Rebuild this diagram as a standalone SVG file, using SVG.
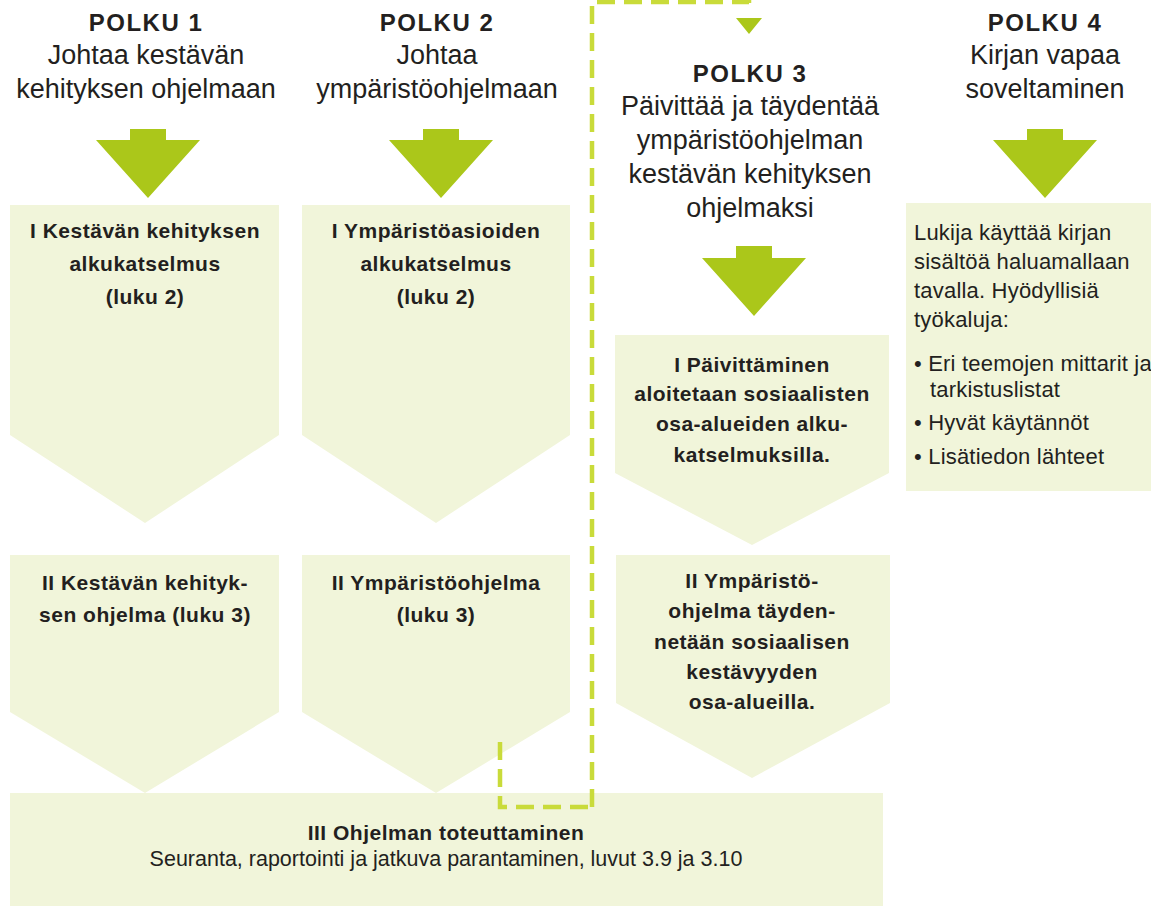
<svg xmlns="http://www.w3.org/2000/svg" width="1151" height="906" viewBox="0 0 1151 906">
<style>
.bg{fill:#ffffff}
.box{fill:#f1f5da}
.arrow{fill:#abc71a}
.dash{fill:none;stroke:#c9db3a;stroke-width:4.5;stroke-dasharray:18 9}
.t{font-family:"Liberation Sans",Arial,sans-serif;fill:#231f20}
.title{font-size:24px;font-weight:bold;letter-spacing:1.5px;text-anchor:middle}
.sub{font-size:27px;text-anchor:middle}
.bt{font-size:21px;font-weight:bold;letter-spacing:0.5px;text-anchor:middle}
.rt{font-size:22px;letter-spacing:0.2px}
.ft{font-size:21.5px;text-anchor:middle}
</style>
<rect class="bg" x="0" y="0" width="1151" height="906"/>

<g id="polku1">
  <text class="t title" x="146" y="31">POLKU 1</text>
  <text class="t sub" x="146" y="64">Johtaa kestävän</text>
  <text class="t sub" x="146" y="98">kehityksen ohjelmaan</text>
  <polygon class="arrow" points="130,129 166,129 166,140 200,140 148,198 96,140 130,140"/>
</g>

<g id="polku2">
  <text class="t title" x="437" y="31">POLKU 2</text>
  <text class="t sub" x="437" y="64">Johtaa</text>
  <text class="t sub" x="437" y="98">ympäristöohjelmaan</text>
  <polygon class="arrow" points="423,129 459,129 459,140 493,140 441,198 389,140 423,140"/>
</g>

<g id="polku3">
  <text class="t title" x="750" y="82">POLKU 3</text>
  <text class="t sub" x="750" y="115">Päivittää ja täydentää</text>
  <text class="t sub" x="750" y="149">ympäristöohjelman</text>
  <text class="t sub" x="750" y="183">kestävän kehityksen</text>
  <text class="t sub" x="750" y="217">ohjelmaksi</text>
  <polygon class="arrow" points="736,246 772,246 772,258 806,258 754,316 702,258 736,258"/>
</g>

<g id="polku4">
  <text class="t title" x="1045" y="31">POLKU 4</text>
  <text class="t sub" x="1045" y="64">Kirjan vapaa</text>
  <text class="t sub" x="1045" y="98">soveltaminen</text>
  <polygon class="arrow" points="1027,129 1063,129 1063,140 1097,140 1045,198 993,140 1027,140"/>
</g>

<g id="box1a">
  <polygon class="box" points="10,205 279,205 279,435 145,523 10,435"/>
  <text class="t bt" x="145" y="238">I Kestävän kehityksen</text>
  <text class="t bt" x="145" y="271">alkukatselmus</text>
  <text class="t bt" x="145" y="304">(luku 2)</text>
</g>

<g id="box2a">
  <polygon class="box" points="302,205 570,205 570,435 436,523 302,435"/>
  <text class="t bt" x="436" y="238">I Ympäristöasioiden</text>
  <text class="t bt" x="436" y="271">alkukatselmus</text>
  <text class="t bt" x="436" y="304">(luku 2)</text>
</g>

<g id="box3a">
  <polygon class="box" points="615,335 889,335 889,473 752,545 615,473"/>
  <text class="t bt" x="752" y="372">I Päivittäminen</text>
  <text class="t bt" x="752" y="401">aloitetaan sosiaalisten</text>
  <text class="t bt" x="752" y="431">osa-alueiden alku-</text>
  <text class="t bt" x="752" y="462">katselmuksilla.</text>
</g>

<g id="box4">
  <rect class="box" x="906" y="203" width="250" height="288"/>
  <text class="t rt" x="914" y="240">Lukija käyttää kirjan</text>
  <text class="t rt" x="914" y="269">sisältöä haluamallaan</text>
  <text class="t rt" x="914" y="298">tavalla. Hyödyllisiä</text>
  <text class="t rt" x="914" y="327">työkaluja:</text>
  <text class="t rt" x="914" y="371">• Eri teemojen mittarit ja</text>
  <text class="t rt" x="930" y="397">tarkistuslistat</text>
  <text class="t rt" x="914" y="430">• Hyvät käytännöt</text>
  <text class="t rt" x="914" y="464">• Lisätiedon lähteet</text>
</g>

<g id="box1b">
  <polygon class="box" points="10,555 279,555 279,712 145,793 10,712"/>
  <text class="t bt" x="145" y="590">II Kestävän kehityk-</text>
  <text class="t bt" x="145" y="622">sen ohjelma (luku 3)</text>
</g>

<g id="box2b">
  <polygon class="box" points="302,555 570,555 570,712 436,793 302,712"/>
  <text class="t bt" x="436" y="590">II Ympäristöohjelma</text>
  <text class="t bt" x="436" y="622">(luku 3)</text>
</g>

<g id="box3b">
  <polygon class="box" points="616,555 890,555 890,703 752,778 616,703"/>
  <text class="t bt" x="752" y="588">II Ympäristö-</text>
  <text class="t bt" x="752" y="618">ohjelma täyden-</text>
  <text class="t bt" x="752" y="649">netään sosiaalisen</text>
  <text class="t bt" x="752" y="679">kestävyyden</text>
  <text class="t bt" x="752" y="709">osa-alueilla.</text>
</g>

<g id="box5">
  <rect class="box" x="10" y="793" width="873" height="113"/>
  <text class="t bt" x="446" y="840">III Ohjelman toteuttaminen</text>
  <text class="t ft" x="446" y="866">Seuranta, raportointi ja jatkuva parantaminen, luvut 3.9 ja 3.10</text>
</g>

<g id="connectors">
  <path class="dash" d="M592,807 V2 H749 V12"/>
  <path class="dash" d="M500,742 V807 H592"/>
  <polygon class="arrow" points="736,18 762,18 749,34"/>
</g>
</svg>
